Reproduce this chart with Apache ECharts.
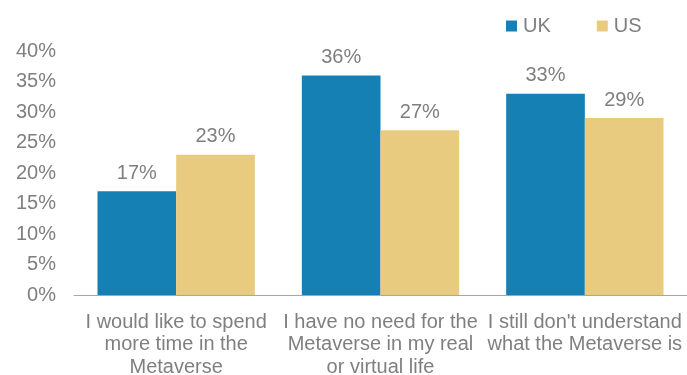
<!DOCTYPE html>
<html><head><meta charset="utf-8">
<script src="https://cdn.jsdelivr.net/npm/echarts@6/dist/echarts.min.js"></script>
<style>html,body{margin:0;padding:0;background:#fff}#c{width:687px;height:375px}</style>
</head><body><div id="c"></div>
<script>
const categories = ["I would like to spend\nmore time in the\nMetaverse", "I have no need for the\nMetaverse in my real\nor virtual life", "I still don't understand\nwhat the Metaverse is"];
const ukValues = [17, 36, 33];
const usValues = [23, 27, 29];
const yTicks = [0, 5, 10, 15, 20, 25, 30, 35, 40];
const font = "'Liberation Sans', Arial, sans-serif";
const txt = '#7f7f7f';
const chart = echarts.init(document.getElementById('c'));
chart.setOption({
  animation: false,
  textStyle: { fontFamily: font },
  legend: {
    top: 16, left: 506, padding: 0, itemWidth: 11, itemHeight: 11, itemGap: 46, icon: 'rect',
    textStyle: { fontSize: 20, color: txt, fontFamily: font, padding: [0, 0, 0, 1] },
    data: ['UK', 'US']
  },
  grid: { left: 74, right: 0, top: 51, bottom: 80, containLabel: false, outerBoundsMode: 'none' },
  xAxis: {
    type: 'category', data: categories,
    axisLine: { lineStyle: { color: '#a6a6a6', width: 1 } },
    axisTick: { show: false },
    axisLabel: { fontSize: 20, color: txt, lineHeight: 22.5, margin: 16, interval: 0, fontFamily: font }
  },
  yAxis: {
    type: 'value', min: yTicks[0], max: yTicks[yTicks.length - 1], interval: 5,
    axisLine: { show: false }, axisTick: { show: false }, splitLine: { show: false },
    axisLabel: { formatter: '{value}%', fontSize: 20, color: txt, margin: 18, fontFamily: font }
  },
  series: [
    { name: 'UK', type: 'bar', data: ukValues, barGap: '0%', barCategoryGap: '23%',
      itemStyle: { color: '#1580b4' },
      label: { show: true, position: 'top', formatter: '{c}%', fontSize: 20, color: txt, distance: 8, fontFamily: font } },
    { name: 'US', type: 'bar', data: usValues, barGap: '0%', barCategoryGap: '23%',
      itemStyle: { color: '#e8cb7e' },
      label: { show: true, position: 'top', formatter: '{c}%', fontSize: 20, color: txt, distance: 8, fontFamily: font } }
  ]
});
</script></body></html>
